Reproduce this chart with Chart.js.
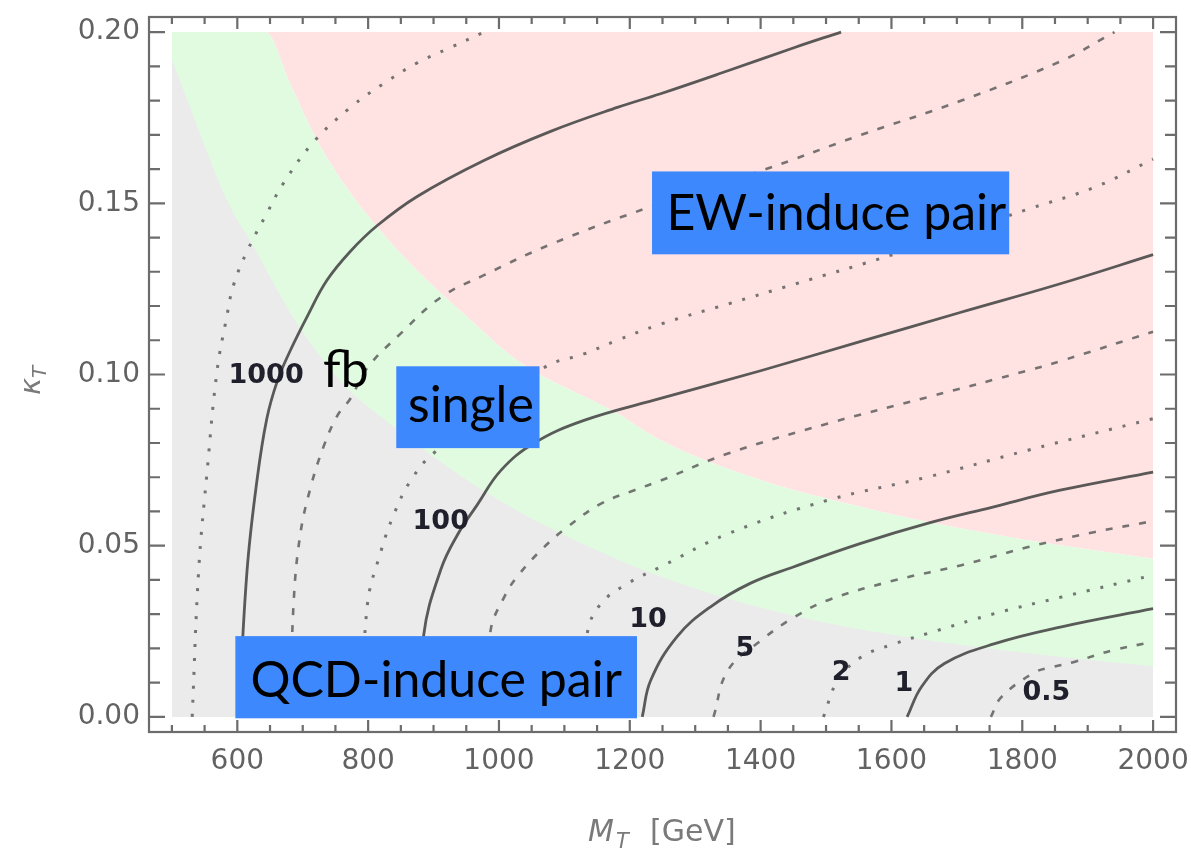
<!DOCTYPE html>
<html>
<head>
<meta charset="utf-8">
<script src="https://cdn.jsdelivr.net/npm/chart.js@4.4.0/dist/chart.umd.min.js"></script>
<style>
  html, body { margin: 0; padding: 0; background: #fff; }
</style>
</head>
<body>
<canvas id="chart" width="1191" height="850"></canvas>
<script>
// tick labels
const xTicks = [600, 800, 1000, 1200, 1400, 1600, 1800, 2000];
const yTicks = [0, 0.05, 0.10, 0.15, 0.20];

// region boundaries (M_T in GeV, kappa_T)
const qcdEdgeM = [500, 589, 620, 681, 732, 773, 824, 900, 977, 1079, 1181, 1247, 1350, 1452, 1554, 1707, 1860, 2000];
const qcdEdgeK = [0.192, 0.149, 0.139, 0.118, 0.104, 0.095, 0.087, 0.076, 0.066, 0.055, 0.046, 0.041, 0.0345, 0.0295, 0.0255, 0.021, 0.0175, 0.0148];
const ewEdgeM = [500, 643, 681, 722, 763, 814, 875, 952, 1028, 1181, 1247, 1401, 1554, 1656, 1809, 2000];
const ewEdgeK = [0.2, 0.2, 0.1848, 0.1683, 0.1556, 0.143, 0.1303, 0.1167, 0.1041, 0.0886, 0.0808, 0.0691, 0.0613, 0.0569, 0.0516, 0.0462];

// cross-section contours (fb)
const c2000M = [531, 541, 554, 569, 584, 594, 615, 645, 671, 717, 773, 824, 875, 926, 977];
const c2000K = [0, 0.043, 0.072, 0.101, 0.117, 0.126, 0.136, 0.147, 0.156, 0.168, 0.178, 0.185, 0.191, 0.1955, 0.2];
const c1000M = [602, 615, 630, 645, 661, 681, 707, 737, 773, 814, 875, 977, 1079, 1181, 1247, 1350, 1452, 1523];
const c1000K = [0, 0.043, 0.069, 0.087, 0.098, 0.107, 0.117, 0.1275, 0.136, 0.1435, 0.152, 0.1625, 0.171, 0.178, 0.182, 0.1887, 0.1955, 0.2];
const c500M = [681, 686, 696, 712, 732, 753, 773, 799, 850, 911, 977, 1079, 1232, 1401, 1554, 1707, 1860, 1941];
const c500K = [0, 0.033, 0.053, 0.067, 0.079, 0.088, 0.093, 0.102, 0.112, 0.1225, 0.129, 0.138, 0.149, 0.1595, 0.170, 0.180, 0.1916, 0.2];
const c200M = [791, 799, 819, 839, 865, 900, 1069, 1130, 1181, 1247, 1350, 1452, 1605, 1809, 1911, 2000];
const c200K = [0, 0.033, 0.048, 0.059, 0.069, 0.077, 0.102, 0.106, 0.110, 0.1147, 0.1206, 0.1264, 0.1352, 0.1483, 0.1547, 0.1629];
const c100M = [883, 885, 911, 936, 967, 1003, 1054, 1130, 1247, 1400, 1552, 1705, 1858, 2000];
const c100K = [0, 0.024, 0.043, 0.053, 0.062, 0.072, 0.080, 0.0866, 0.093, 0.1011, 0.1096, 0.1181, 0.1265, 0.135];
const c50M = [983, 987, 1008, 1028, 1069, 1105, 1156, 1207, 1247, 1350, 1503, 1656, 1809, 1860, 2000];
const c50K = [0, 0.025, 0.035, 0.041, 0.0496, 0.0555, 0.0623, 0.0662, 0.069, 0.0769, 0.0857, 0.0934, 0.1012, 0.104, 0.1125];
const c20M = [1130, 1135, 1156, 1197, 1247, 1350, 1503, 1656, 1809, 2000];
const c20K = [0, 0.0244, 0.0331, 0.039, 0.0438, 0.0535, 0.0633, 0.0701, 0.0779, 0.0871];
const c10M = [1219, 1232, 1272, 1323, 1384, 1450, 1552, 1655, 1755, 1858, 2000];
const c10K = [0, 0.0107, 0.0234, 0.0321, 0.039, 0.0438, 0.0506, 0.0565, 0.0613, 0.0662, 0.0715];
const c5M = [1328, 1350, 1401, 1452, 1503, 1605, 1707, 1809, 1911, 2000];
const c5K = [0, 0.0136, 0.0224, 0.0292, 0.0341, 0.0399, 0.0443, 0.0496, 0.054, 0.0572];
const c2M = [1496, 1518, 1554, 1605, 1656, 1758, 1860, 2000];
const c2K = [0, 0.0107, 0.0175, 0.0214, 0.0244, 0.0302, 0.035, 0.0414];
const c1M = [1624, 1646, 1681, 1758, 1860, 2000];
const c1K = [0, 0.0088, 0.0156, 0.0214, 0.0263, 0.0316];
const c05M = [1752, 1768, 1820, 1847, 1878, 1939, 2000];
const c05K = [0, 0.0058, 0.0131, 0.0146, 0.016, 0.0195, 0.0219];

// contour labels
const labelText = ['1000', '100', '10', '5', '2', '1', '0.5'];
const labelM = [644, 911, 1228, 1376, 1523, 1619, 1837];
const labelK = [0.0995, 0.057, 0.0282, 0.0199, 0.0129, 0.0095, 0.0071];

const pts = (ms, ks) => ms.map((m, i) => ({x: m, y: ks[i]}));

const solid = {borderColor: 'rgba(68,68,68,0.88)', borderWidth: 2.8, borderDash: []};
const dashed = {borderColor: 'rgba(85,85,85,0.8)', borderWidth: 2.6, borderDash: [7, 10]};
const dotted = {borderColor: 'rgba(85,85,85,0.8)', borderWidth: 3, borderDash: [3, 11]};

function contour(ms, ks, style) {
    return Object.assign({data: pts(ms, ks), fill: false, pointRadius: 0, order: 0,
        tension: 0.4, cubicInterpolationMode: 'default'}, style);
}

function region(ms, ks, fillTo, color, order) {
    return {data: pts(ms, ks), fill: {value: fillTo}, backgroundColor: color, borderWidth: 0,
        pointRadius: 0, order: order, cubicInterpolationMode: 'monotone'};
}

const datasets = [
    contour(c2000M, c2000K, dotted),
    contour(c1000M, c1000K, solid),
    contour(c500M, c500K, dashed),
    contour(c200M, c200K, dotted),
    contour(c100M, c100K, solid),
    contour(c50M, c50K, dashed),
    contour(c20M, c20K, dotted),
    contour(c10M, c10K, solid),
    contour(c5M, c5K, dashed),
    contour(c2M, c2K, dotted),
    contour(c1M, c1K, solid),
    contour(c05M, c05K, dashed),
    region(qcdEdgeM, qcdEdgeK, 0, '#ebebeb', 1),    // QCD-induced pair
    region(ewEdgeM, ewEdgeK, 0, '#e1fbe1', 2),      // single production
    region(ewEdgeM, ewEdgeK, 0.2, '#ffe3e3', 3)     // EW-induced pair
];

// annotation boxes, given in data coordinates
const boxes = [
    {text: 'EW-induce pair', m0: 1234, m1: 1780, k0: 0.1351, k1: 0.1593, tm: 1256, tk: 0.1421},
    {text: 'single', m0: 843, m1: 1062, k0: 0.0785, k1: 0.1024, tm: 861, tk: 0.086},
    {text: 'QCD-induce pair', m0: 597, m1: 1211, k0: -0.0004, k1: 0.0236, tm: 620, tk: 0.0058}
];

const frameGray = '#6c6c6c';

const decorations = {
    id: 'decorations',
    afterDatasetsDraw(chart) {
        const {ctx, chartArea: a, scales: {x, y}} = chart;
        ctx.save();

        // contour labels
        ctx.font = 'bold 27px "DejaVu Sans"';
        ctx.fillStyle = '#20202c';
        ctx.textAlign = 'center';
        ctx.textBaseline = 'middle';
        labelText.forEach((t, i) => {
            ctx.fillText(t, x.getPixelForValue(labelM[i]), y.getPixelForValue(labelK[i]));
        });

        // blue label boxes
        ctx.textAlign = 'left';
        ctx.textBaseline = 'alphabetic';
        ctx.font = '50px Lato';
        boxes.forEach(b => {
            const x0 = x.getPixelForValue(b.m0), x1 = x.getPixelForValue(b.m1);
            const y0 = y.getPixelForValue(b.k1), y1 = y.getPixelForValue(b.k0);
            ctx.fillStyle = '#3d88fc';
            ctx.fillRect(x0, y0, x1 - x0, y1 - y0);
            ctx.fillStyle = '#000';
            ctx.fillText(b.text, x.getPixelForValue(b.tm), y.getPixelForValue(b.tk));
        });
        ctx.fillText('fb', x.getPixelForValue(731), y.getPixelForValue(0.0963));

        // frame with inward ticks on all four sides
        ctx.strokeStyle = frameGray;
        ctx.lineWidth = 2.2;
        ctx.strokeRect(a.left, a.top, a.right - a.left, a.bottom - a.top);
        ctx.beginPath();
        for (let m = 500; m <= 2000; m += 50) {
            const px = x.getPixelForValue(m);
            const len = m % 200 === 0 ? 12 : 7;
            ctx.moveTo(px, a.bottom); ctx.lineTo(px, a.bottom - len);
            ctx.moveTo(px, a.top); ctx.lineTo(px, a.top + len);
        }
        for (let i = 0; i <= 20; i++) {
            const py = y.getPixelForValue(i / 100);
            const len = i % 5 === 0 ? 16 : 11;
            ctx.moveTo(a.left, py); ctx.lineTo(a.left + len, py);
            ctx.moveTo(a.right, py); ctx.lineTo(a.right - len, py);
        }
        ctx.stroke();

        // axis titles
        ctx.fillStyle = '#7a7a7a';
        ctx.font = 'italic 30px "DejaVu Sans"';
        ctx.fillText('M', 588, 841);
        ctx.font = 'italic 21px "DejaVu Sans"';
        ctx.fillText('T', 616, 848);
        ctx.font = '30px "DejaVu Sans"';
        ctx.fillText('[GeV]', 650, 841);

        ctx.translate(40, 395);
        ctx.rotate(-Math.PI / 2);
        ctx.font = 'italic 29px "DejaVu Sans"';
        ctx.fillText('\u03ba', 0, 0);
        ctx.font = 'italic 20px "DejaVu Sans"';
        ctx.fillText('T', 17, 6);
        ctx.restore();
    }
};

new Chart(document.getElementById('chart'), {
    type: 'line',
    data: {datasets},
    options: {
        responsive: false,
        animation: false,
        layout: {padding: {left: 0, top: 17, right: 15, bottom: 0}},
        plugins: {legend: {display: false}, tooltip: {enabled: false}},
        scales: {
            x: {
                type: 'linear', min: 465, max: 2035,
                grid: {display: false, drawTicks: false},
                border: {display: false},
                afterBuildTicks: s => { s.ticks = xTicks.map(v => ({value: v})); },
                afterFit: s => { s.height = 118; s.paddingLeft = 0; s.paddingRight = 0; },
                ticks: {font: {family: 'DejaVu Sans', size: 28}, color: '#626262', padding: 13, maxRotation: 0, autoSkip: false,
                    callback: v => String(v)}
            },
            y: {
                type: 'linear', min: -0.0044, max: 0.2044,
                grid: {display: false, drawTicks: false},
                border: {display: false},
                afterBuildTicks: s => { s.ticks = yTicks.map(v => ({value: v})); },
                afterFit: s => { s.width = 149; s.paddingTop = 0; s.paddingBottom = 0; },
                ticks: {font: {family: 'DejaVu Sans', size: 28}, color: '#626262', padding: 9,
                    callback: v => v.toFixed(2)}
            }
        }
    },
    plugins: [decorations]
});
</script>
</body>
</html>
